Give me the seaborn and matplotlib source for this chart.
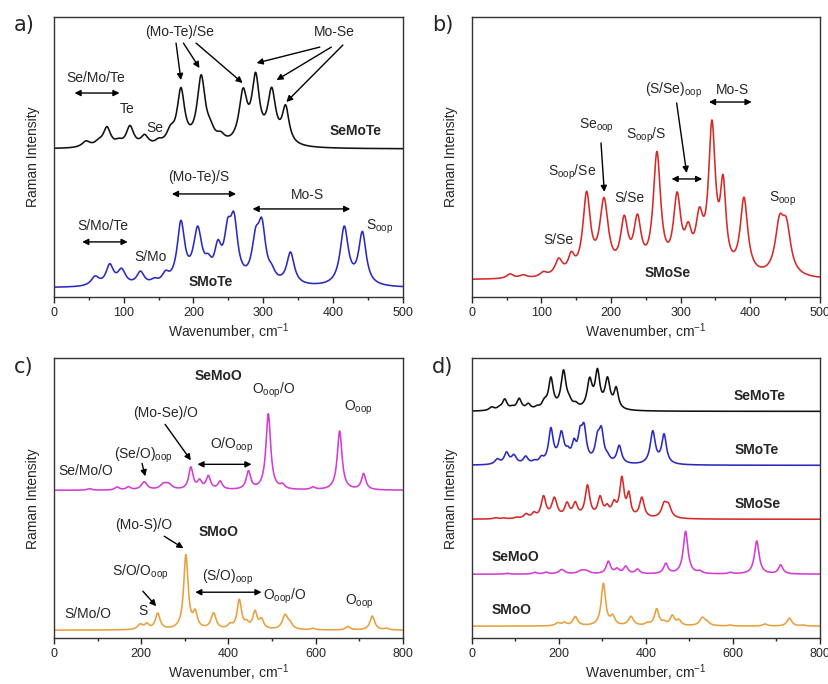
"""Raman spectra of Janus MoXY layers - four panel figure."""

import numpy as np
import pandas as pd
import matplotlib
matplotlib.use("Agg")
import matplotlib.pyplot as plt
import seaborn as sns
from matplotlib.ticker import MultipleLocator

# peak tables: position (cm-1), height, half width
semote_pos = [46, 64, 76, 93, 109, 130, 150, 167, 182, 211, 224, 239, 271, 289, 312, 332]
semote_h = [6, 4, 19, 4, 20, 10, 4, 12, 54, 67, 10, 7, 50, 64, 52, 36]
semote_w = [7, 7, 6.5, 6, 6.5, 6.5, 6, 7, 6.5, 7, 7, 7, 7, 6.5, 7, 6]

smote_pos = [59, 80, 97, 124, 144, 160, 182, 206, 221, 235, 249, 258, 289, 298, 312, 339, 416, 442]
smote_h = [9, 20, 15, 13, 4, 9, 60, 52, 13, 30, 41, 56, 37, 52, 8, 32, 58, 52]
smote_w = [7, 6.5, 7, 6.5, 6, 6, 6.5, 7.5, 6, 6, 6, 6.5, 6.5, 6.5, 6, 6.5, 7, 6.5]

smose_pos = [55, 74, 103, 125, 143, 165, 190, 219, 238, 266, 295, 311, 327, 345, 361, 391, 442, 452]
smose_h = [4.5, 3, 4.5, 16, 17, 79, 72, 50, 50, 118, 72, 32, 47, 142, 80, 75, 47, 43]
smose_w = [6, 6, 6, 6.5, 5.5, 6.5, 7.5, 6.5, 6.5, 6.5, 6.5, 6, 6.5, 6, 5, 6.5, 7.5, 7.5]

semoo_pos = [82, 145, 171, 207, 251, 263, 314, 334, 354, 381, 446, 491.5, 524, 594, 655, 710]
semoo_h = [1.5, 3, 3, 8, 5, 5, 22, 8, 13, 8, 18, 76, 4, 2.5, 59, 16]
semoo_w = [6, 6, 6, 8, 9, 9, 6, 6, 6, 6, 6, 6.5, 6, 6, 6.5, 6]

smoo_pos = [198, 213, 238, 302.5, 324, 366, 404, 425, 442, 461, 476, 530, 541, 594, 674, 730, 762]
smoo_h = [5, 5, 16, 74, 15, 16, 4, 29, 5, 17, 9, 14, 5, 1.5, 3.5, 14, 1.5]
smoo_w = [7, 6, 6.5, 6, 6, 7, 6, 6, 6, 6, 6, 7.5, 7, 6, 6, 6.5, 6]

# baselines of each trace in panels a-c, offsets in panel d
names = ["SeMoTe", "SMoTe", "SMoSe", "SeMoO", "SMoO"]
colors = ["#111111", "#2a2ac0", "#d42a2a", "#d43cd4", "#e8a03c"]
baselines = [148, 9, 17, 148, 8]
offsets_d = [227, 173, 119, 64, 12]
tables = [(semote_pos, semote_h, semote_w), (smote_pos, smote_h, smote_w),
          (smose_pos, smose_h, smose_w), (semoo_pos, semoo_h, semoo_w),
          (smoo_pos, smoo_h, smoo_w)]


def spectrum(pos, height, width, base):
    x = np.arange(0, 800.5, 0.5)
    y = np.full_like(x, float(base))
    for p, h, w in zip(pos, height, width):
        y += h * w ** 2 / ((x - p) ** 2 + w ** 2)
    return x, y


spectra = {}
for name, (p, h, w), b in zip(names, tables, baselines):
    x, y = spectrum(p, h, w, b)
    spectra[name] = pd.DataFrame({"x": x, "y": y})

sns.set_style("ticks")
plt.rcParams['font.family'] = ['Liberation Sans', 'DejaVu Sans']
plt.rcParams['mathtext.fontset'] = 'custom'
plt.rcParams['mathtext.rm'] = 'Liberation Sans'
plt.rcParams['mathtext.it'] = 'Liberation Sans:italic'
plt.rcParams['mathtext.bf'] = 'Liberation Sans:bold'
plt.rcParams['axes.edgecolor'] = '#333333'
plt.rcParams['axes.linewidth'] = 1.0

fig = plt.figure(figsize=(8.29, 6.84), dpi=100)
ax_a = fig.add_axes([0.065, 0.566, 0.421, 0.409])
ax_b = fig.add_axes([0.569, 0.566, 0.420, 0.409])
ax_c = fig.add_axes([0.065, 0.067, 0.421, 0.409])
ax_d = fig.add_axes([0.569, 0.067, 0.420, 0.409])


def draw(ax, name, df, lw=1.15):
    sns.lineplot(data=df, x="x", y="y", ax=ax, color=colors[names.index(name)],
                 lw=lw, estimator=None, sort=False)


draw(ax_a, "SeMoTe", spectra["SeMoTe"])
draw(ax_a, "SMoTe", spectra["SMoTe"])
draw(ax_b, "SMoSe", spectra["SMoSe"])
draw(ax_c, "SeMoO", spectra["SeMoO"])
draw(ax_c, "SMoO", spectra["SMoO"])
for name, b, off in zip(names, baselines, offsets_d):
    df = spectra[name].copy()
    df["y"] = (df["y"] - b) / (df["y"] - b).max() * 43 + off
    draw(ax_d, name, df)

for ax, xmax, step in [(ax_a, 500, 100), (ax_b, 500, 100), (ax_c, 800, 200), (ax_d, 800, 200)]:
    ax.set_xlim(0, xmax)
    ax.set_ylim(0, 280)
    ax.xaxis.set_major_locator(MultipleLocator(step))
    ax.xaxis.set_minor_locator(MultipleLocator(step / 2))
    ax.set_yticks([])
    ax.tick_params(axis='x', which='major', length=4, width=1, labelsize=9, pad=3)
    ax.tick_params(axis='x', which='minor', length=2.5, width=1)
    ax.set_xlabel("Wavenumber, cm$^{-1}$", fontsize=10, labelpad=2)
    ax.set_ylabel("Raman Intensity", fontsize=10, labelpad=10)
    for s in ax.spines.values():
        s.set_visible(True)

# panel letters
for ax, letter in [(ax_a, "a)"), (ax_b, "b)"), (ax_c, "c)"), (ax_d, "d)")]:
    ax.text(-0.115, 0.97, letter, transform=ax.transAxes, fontsize=15,
            family='DejaVu Sans', ha='left', va='center')

FS = 10


def label(ax, x, y, s, bold=False):
    ax.text(x, y, s, fontsize=FS, ha='center', va='center',
            fontweight='bold' if bold else 'normal')


def arrow(ax, x0, y0, x1, y1):
    ax.annotate("", xy=(x1, y1), xytext=(x0, y0),
                arrowprops=dict(arrowstyle='-|>', color='black', lw=1, mutation_scale=9,
                                shrinkA=0, shrinkB=0))


def double(ax, x0, x1, y):
    ax.annotate("", xy=(x1, y), xytext=(x0, y),
                arrowprops=dict(arrowstyle='<|-|>', color='black', lw=1, mutation_scale=9,
                                shrinkA=0, shrinkB=0))


# a)
label(ax_a, 180, 265, "(Mo-Te)/Se")
label(ax_a, 402, 265, "Mo-Se")
arrow(ax_a, 175, 254, 182, 217)
arrow(ax_a, 185.6, 254, 208.6, 229)
arrow(ax_a, 203.7, 254, 270.4, 214)
arrow(ax_a, 381, 250, 290.4, 234)
arrow(ax_a, 397.5, 250, 319, 217)
arrow(ax_a, 414, 252, 333, 195)
label(ax_a, 59.5, 219, "Se/Mo/Te")
double(ax_a, 29.5, 94, 204)
label(ax_a, 105, 188, "Te")
label(ax_a, 145, 169, "Se")
label(ax_a, 432, 166, "SeMoTe", bold=True)
label(ax_a, 208, 120, "(Mo-Te)/S")
double(ax_a, 169, 261, 103)
label(ax_a, 362.7, 102, "Mo-S")
double(ax_a, 284.6, 424.6, 88)
label(ax_a, 70, 71, "S/Mo/Te")
double(ax_a, 40.5, 105.7, 55)
label(ax_a, 138, 40, "S/Mo")
label(ax_a, 225, 15, "SMoTe", bold=True)
label(ax_a, 466.5, 70, r"S$_{\mathrm{oop}}$")

# b)
label(ax_b, 124, 57, "S/Se")
label(ax_b, 143.5, 125, r"S$_{\mathrm{oop}}$/Se")
label(ax_b, 179.4, 171, r"Se$_{\mathrm{oop}}$")
arrow(ax_b, 185.7, 154, 190.4, 105)
label(ax_b, 250, 162, r"S$_{\mathrm{oop}}$/S")
label(ax_b, 227, 99, "S/Se")
label(ax_b, 289.5, 207, r"(S/Se)$_{\mathrm{oop}}$")
arrow(ax_b, 294.3, 194, 308.6, 124)
double(ax_b, 287, 331, 118)
label(ax_b, 374, 207, "Mo-S")
double(ax_b, 340.7, 402, 195)
label(ax_b, 447, 98, r"S$_{\mathrm{oop}}$")
label(ax_b, 282, 24, "SMoSe", bold=True)

# c)
label(ax_c, 377, 262, "SeMoO", bold=True)
label(ax_c, 503, 248, r"O$_{\mathrm{oop}}$/O")
label(ax_c, 697, 231, r"O$_{\mathrm{oop}}$")
label(ax_c, 255, 225, "(Mo-Se)/O")
arrow(ax_c, 255, 214, 314, 178)
label(ax_c, 407.7, 193, r"O/O$_{\mathrm{oop}}$")
double(ax_c, 329, 453, 174)
label(ax_c, 205.7, 183, r"(Se/O)$_{\mathrm{oop}}$")
arrow(ax_c, 202, 175, 209.5, 162)
label(ax_c, 72, 167, "Se/Mo/O")
label(ax_c, 205.7, 113, "(Mo-S)/O")
arrow(ax_c, 253, 102, 297, 90)
label(ax_c, 377, 106, "SMoO", bold=True)
label(ax_c, 198, 66, r"S/O/O$_{\mathrm{oop}}$")
arrow(ax_c, 204, 47, 234.7, 32)
label(ax_c, 398.5, 61, r"(S/O)$_{\mathrm{oop}}$")
double(ax_c, 324, 476, 46)
label(ax_c, 529.6, 42, r"O$_{\mathrm{oop}}$/O")
label(ax_c, 701, 36, r"O$_{\mathrm{oop}}$")
label(ax_c, 204, 27, "S")
label(ax_c, 77.7, 24, "S/Mo/O")

# d)
label(ax_d, 662, 242, "SeMoTe", bold=True)
label(ax_d, 654.6, 188, "SMoTe", bold=True)
label(ax_d, 657, 134, "SMoSe", bold=True)
label(ax_d, 99.5, 81, "SeMoO", bold=True)
label(ax_d, 92, 28, "SMoO", bold=True)

fig.savefig("out.png", dpi=100)
